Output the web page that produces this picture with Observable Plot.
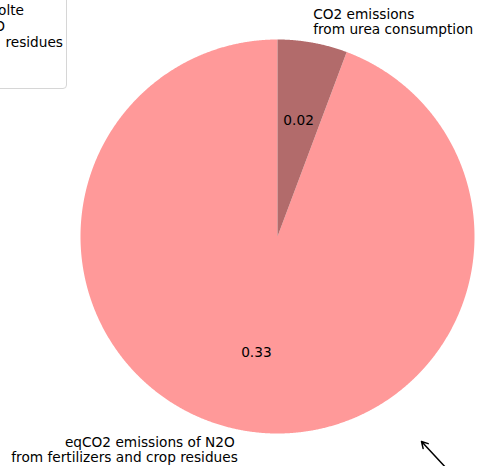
<!DOCTYPE html>
<html>
<head>
<meta charset="utf-8">
<script src="https://cdn.jsdelivr.net/npm/d3@7"></script>
<script src="https://cdn.jsdelivr.net/npm/@observablehq/plot@0.6"></script>
<style>
  html, body { margin: 0; padding: 0; background: #fff; }
  #wrap { position: relative; width: 478px; height: 466px; overflow: hidden; font-family: "DejaVu Sans", sans-serif; }
  #legend { position: absolute; left: -220px; top: -10px; width: 287px; height: 99px;
    border: 1px solid #d6d6d6; border-radius: 4px; background: rgba(255,255,255,0.8); box-sizing: border-box; }
  .lg { position: absolute; font-size: 13.7px; color: #000; white-space: nowrap; transform: translate(-100%, -50%); }
</style>
</head>
<body>
<div id="wrap">
  <div id="chart"></div>
  <div id="legend"></div>
</div>
<script>
// ---- data ----
const categories = ["eqCO2 emissions of N2O\nfrom fertilizers and crop residues", "CO2 emissions\nfrom urea consumption"];
const values = [0.33, 0.02];
const colors = ["#ff9999", "#b26b6b"];
const legendFragments = ["olte", "O", "residues"];
const arrowAnnotation = [{x1: 0.87, y1: -1.19, x2: 0.731, y2: -1.041}];

// ---- layout ----
const W = 478, H = 466;
const cx = 277, cy = 236, Rpx = 197;
const FS = 13.7, LH = 15.2;
const total = d3.sum(values);
let acc = 90;
const wedges = values.map((v, i) => {
  const span = 360 * v / total;
  const w = {i, v, a0: acc, a1: acc + span, mid: acc + span / 2};
  acc += span;
  return w;
});
const rad = d => d * Math.PI / 180;
function wedgePoly(w) {
  const pts = [{x: 0, y: 0}];
  const n = Math.max(2, Math.ceil((w.a1 - w.a0) / 0.25));
  for (let k = 0; k <= n; k++) {
    const t = rad(w.a0 + (w.a1 - w.a0) * k / n);
    pts.push({x: Math.cos(t), y: Math.sin(t)});
  }
  pts.push({x: 0, y: 0});
  return pts;
}
// one row per text line, so lines can be spaced like the reference
const labelLines = [];
wedges.forEach(w => {
  const lx = 1.1 * Math.cos(rad(w.mid)), ly = 1.1 * Math.sin(rad(w.mid));
  const lines = categories[w.i].split("\n");
  lines.forEach((t, k) => {
    labelLines.push({
      x: lx, y: ly - (k - (lines.length - 1) / 2) * LH / Rpx,
      text: t, anchor: lx < 0 ? "end" : "start", k
    });
  });
});
const pctData = wedges.map(w => ({
  x: 0.6 * Math.cos(rad(w.mid)), y: 0.6 * Math.sin(rad(w.mid)), text: d3.format(".2f")(w.v)
}));

const marks = [
  ...wedges.map(w => Plot.line(wedgePoly(w), {x: "x", y: "y", fill: colors[w.i], stroke: "none", curve: "linear"})),
  Plot.text(labelLines.filter(d => d.anchor === "end" && d.k === 0), {x: "x", y: "y", text: "text", textAnchor: "end", dx: -4, fontSize: FS, fill: "#000"}),
  Plot.text(labelLines.filter(d => d.anchor === "end" && d.k > 0), {x: "x", y: "y", text: "text", textAnchor: "end", dx: -1, fontSize: FS, fill: "#000"}),
  Plot.text(labelLines.filter(d => d.anchor === "start"), {x: "x", y: "y", text: "text", textAnchor: "start", dx: -3, dy: -1.5, fontSize: FS, fill: "#000"}),
  Plot.text(pctData, {x: "x", y: "y", text: "text", textAnchor: "middle", fontSize: FS, fill: "#000"}),
  Plot.arrow(arrowAnnotation, {x1: "x1", y1: "y1", x2: "x2", y2: "y2", stroke: "#000", strokeWidth: 1.5, headLength: 7})
];

const chart = Plot.plot({
  width: W, height: H,
  margin: 0,
  x: {domain: [-cx / Rpx, (W - cx) / Rpx], axis: null},
  y: {domain: [-(H - cy) / Rpx, cy / Rpx], axis: null},
  style: {fontFamily: "DejaVu Sans, sans-serif", fontSize: FS + "px", background: "#fff", overflow: "hidden"},
  marks
});
document.getElementById("chart").appendChild(chart);

// legend (cropped at the left edge, as in the reference)
const legend = document.getElementById("legend");
const legendPos = [[23, 9], [4, 25], [62, 41]];
legendFragments.forEach((t, i) => {
  const s = document.createElement("div");
  s.className = "lg";
  s.textContent = t;
  s.style.left = (legendPos[i][0] + 220) + "px";
  s.style.top = (legendPos[i][1] + 10) + "px";
  legend.appendChild(s);
});
</script>
</body>
</html>
